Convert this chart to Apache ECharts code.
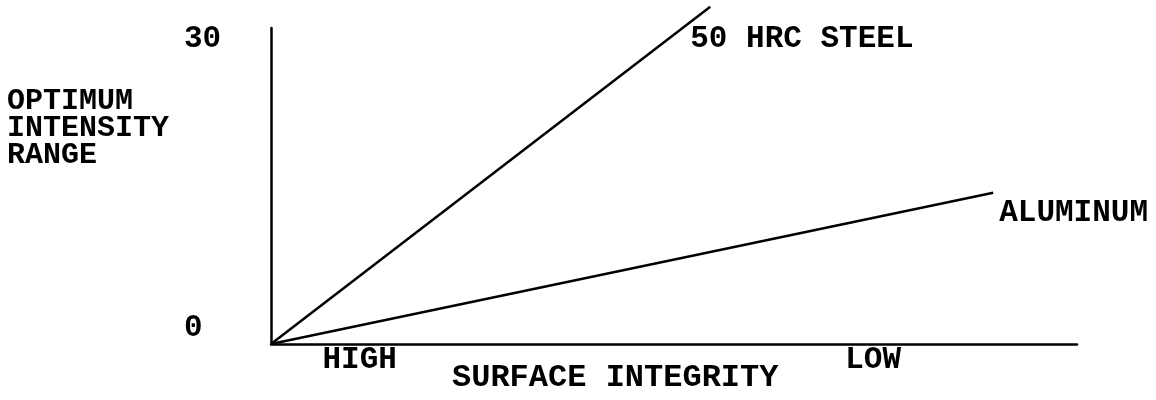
<!DOCTYPE html>
<html>
<head>
<meta charset="utf-8">
<script src="https://cdn.jsdelivr.net/npm/echarts@6/dist/echarts.min.js"></script>
<style>
  html, body { margin: 0; padding: 0; background: #fff; }
  #chart { width: 1156px; height: 400px; }
</style>
</head>
<body>
<div id="chart"></div>
<script>
// Optimum intensity range against surface integrity, per material
const steelName = '50 HRC STEEL';
const steelX = [0, 54.5];
const steelY = [0, 35.0];

const aluminumName = 'ALUMINUM';
const aluminumX = [0, 89.6];
const aluminumY = [0, 15.7];

const yTickValues = [0, 30];
const xTickValues = [11, 74.7];
const xTickLabels = ['HIGH', 'LOW'];

const yAxisTitle = 'OPTIMUM\nINTENSITY\nRANGE';
const xAxisTitle = 'SURFACE INTEGRITY';

const FONT = '"Liberation Mono", "Courier New", monospace';
const INK = '#000';

function pairs(xs, ys) {
  return xs.map((x, i) => [x, ys[i]]);
}

const chart = echarts.init(document.getElementById('chart'), null, { renderer: 'canvas' });

chart.setOption({
  backgroundColor: '#fff',
  animation: false,
  grid: { left: 271, right: 79, top: 28, bottom: 56, containLabel: false },
  xAxis: {
    type: 'value',
    min: 0,
    max: 100,
    splitLine: { show: false },
    axisTick: { show: false },
    axisLine: { show: true, onZero: false, lineStyle: { color: INK, width: 2.5 } },
    axisLabel: {
      customValues: xTickValues,
      formatter: (v) => xTickLabels[xTickValues.indexOf(v)] ?? '',
      color: INK,
      fontFamily: FONT,
      fontWeight: 'bold',
      fontSize: 31,
      margin: 1
    }
  },
  yAxis: {
    type: 'value',
    min: 0,
    max: 32.8,
    splitLine: { show: false },
    axisTick: { show: false },
    axisLine: { show: true, onZero: false, lineStyle: { color: INK, width: 2.5 } },
    axisLabel: {
      customValues: yTickValues,
      color: INK,
      fontFamily: FONT,
      fontWeight: 'bold',
      fontSize: 31,
      align: 'left',
      verticalAlign: 'bottom',
      margin: 87
    }
  },
  graphic: [
    {
      type: 'text',
      left: 7,
      top: 86,
      style: {
        text: yAxisTitle,
        fill: INK,
        font: 'bold 30px ' + FONT,
        lineHeight: 27
      }
    },
    {
      type: 'text',
      left: 452,
      top: 362,
      style: {
        text: xAxisTitle,
        fill: INK,
        font: 'bold 32px ' + FONT
      }
    }
  ],
  series: [
    {
      name: steelName,
      type: 'line',
      data: pairs(steelX, steelY),
      clip: false,
      showSymbol: false,
      symbol: 'none',
      lineStyle: { color: INK, width: 2.5 },
      endLabel: {
        show: true,
        formatter: steelName,
        color: INK,
        fontFamily: FONT,
        fontWeight: 'bold',
        fontSize: 31,
        offset: [-28, 32]
      }
    },
    {
      name: aluminumName,
      type: 'line',
      data: pairs(aluminumX, aluminumY),
      clip: false,
      showSymbol: false,
      symbol: 'none',
      lineStyle: { color: INK, width: 2.5 },
      endLabel: {
        show: true,
        formatter: aluminumName,
        color: INK,
        fontFamily: FONT,
        fontWeight: 'bold',
        fontSize: 31,
        offset: [-2, 20]
      }
    }
  ]
});
</script>
</body>
</html>
